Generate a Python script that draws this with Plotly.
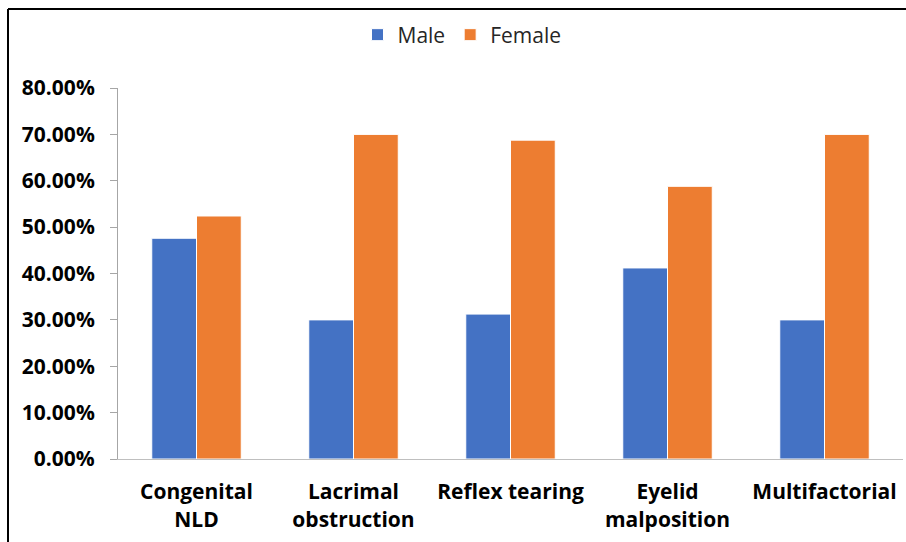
import plotly.graph_objects as go

categories = ["Congenital<br>NLD", "Lacrimal<br>obstruction", "Reflex tearing", "Eyelid<br>malposition", "Multifactorial"]
male = [0.476, 0.30, 0.3125, 0.412, 0.30]
female = [0.524, 0.70, 0.6875, 0.588, 0.70]
y_ticks = [0, 0.1, 0.2, 0.3, 0.4, 0.5, 0.6, 0.7, 0.8]

W, H = 906, 542
L, R, T, B = 118, 3, 88, 83
pw, ph = W - L - R, H - T - B

fig = go.Figure()
fig.add_trace(go.Bar(name="Male", x=categories, y=male, marker=dict(color="#4472C4", line=dict(color="white", width=1))))
fig.add_trace(go.Bar(name="Female", x=categories, y=female, marker=dict(color="#ED7D31", line=dict(color="white", width=1))))

def px_x(p):
    return (p - L) / pw

def px_y(p):
    return (H - B - p) / ph

FONT = "Open Sans, sans-serif"

fig.update_layout(
    width=W, height=H,
    margin=dict(l=L, r=R, t=T, b=B),
    paper_bgcolor="white", plot_bgcolor="white",
    barmode="group", bargap=0.43, bargroupgap=0,
    font=dict(family=FONT, color="#000000"),
    legend=dict(orientation="h", x=px_x(462), xanchor="center", y=px_y(35), yanchor="middle",
                font=dict(size=21, color="#262626", family=FONT), itemwidth=30, traceorder="normal",
                bgcolor="rgba(0,0,0,0)"),
    showlegend=True,
    shapes=[
        dict(type="line", xref="paper", yref="paper", x0=px_x(8), x1=px_x(906), y0=px_y(9), y1=px_y(9),
             line=dict(color="black", width=2)),
        dict(type="line", xref="paper", yref="paper", x0=px_x(8), x1=px_x(8), y0=px_y(9), y1=px_y(542),
             line=dict(color="black", width=2)),
    ],
)
fig.update_yaxes(range=[0, 0.8], tickvals=y_ticks, tickformat=".2%", showgrid=False,
                 showline=True, linecolor="#A6A6A6", linewidth=1, ticks="outside", ticklen=7,
                 tickcolor="#A6A6A6", tickfont=dict(size=21, color="#000000", family=FONT, weight="bold"),
                 zeroline=False, ticklabelstandoff=11)
fig.update_xaxes(showline=True, linecolor="#BFBFBF", linewidth=1, ticks="", showgrid=False,
                 tickfont=dict(size=21, color="#000000", family=FONT, weight="bold"),
                 ticklabelstandoff=14, tickangle=0)

fig.write_html("out.html", config={"displayModeBar": False},
               post_script="document.body.style.margin='0';document.body.style.overflow='hidden';")
